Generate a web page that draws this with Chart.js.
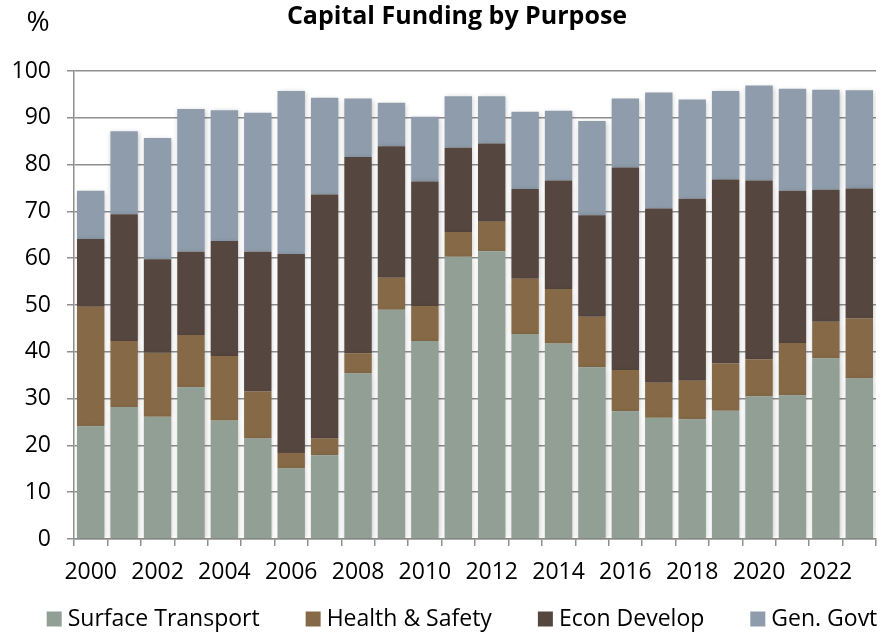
<!DOCTYPE html>
<html lang="en">

<head>
    <meta charset="UTF-8">
    <title>Capital Funding by Purpose</title>
    <script src="https://cdn.jsdelivr.net/npm/chart.js@4/dist/chart.umd.min.js"></script>
    <style>
        body {
            margin: 0;
            background: #ffffff;
        }

        .wrap {
            width: 884px;
            height: 634px;
        }
    </style>
</head>

<body>
    <div class="wrap">
        <canvas id="myChart"></canvas>
    </div>
</body>

</html>

<script>
    // values (percent of capital funding)
    const years = ['2000', '2001', '2002', '2003', '2004', '2005', '2006', '2007', '2008', '2009', '2010', '2011',
        '2012', '2013', '2014', '2015', '2016', '2017', '2018', '2019', '2020', '2021', '2022', '2023'];
    const surfaceTransport = [24.1, 28.2, 26.1, 32.4, 25.3, 21.5, 15.1, 17.9, 35.4, 49.0, 42.3, 60.3,
        61.5, 43.8, 41.8, 36.7, 27.3, 25.9, 25.6, 27.4, 30.5, 30.7, 38.6, 34.3];
    const healthSafety = [25.5, 14.1, 13.7, 11.2, 13.8, 10.0, 3.3, 3.6, 4.3, 6.8, 7.5, 5.3,
        6.3, 11.8, 11.6, 10.8, 8.8, 7.5, 8.2, 10.1, 7.9, 11.2, 7.8, 12.8];
    const econDevelop = [14.5, 27.1, 20.0, 17.8, 24.6, 29.9, 42.5, 52.1, 41.9, 28.1, 26.6, 18.0,
        16.7, 19.2, 23.2, 21.7, 43.3, 37.2, 38.9, 39.3, 38.2, 32.5, 28.2, 27.8];
    const genGovt = [10.3, 17.7, 25.9, 30.5, 27.9, 29.7, 34.8, 20.7, 12.5, 9.3, 13.8, 11.0,
        10.1, 16.5, 14.9, 20.1, 14.7, 24.8, 21.2, 18.9, 20.3, 21.8, 21.4, 21.0];
    const yTicks = [0, 10, 20, 30, 40, 50, 60, 70, 80, 90, 100];

    const FONT = "'Open Sans', 'Noto Sans', sans-serif";
    const gridGray = '#8f8f8f';

    // title and the "%" unit at the top
    const headerPlugin = {
        id: 'header',
        afterDraw(chart) {
            const ctx = chart.ctx;
            ctx.save();
            ctx.fillStyle = '#000';
            ctx.textAlign = 'center';
            ctx.textBaseline = 'alphabetic';
            ctx.font = 'bold 25px ' + FONT;
            ctx.fillText('Capital Funding by Purpose', 457, 24);
            ctx.font = '28px ' + FONT;
            ctx.fillText('%', 38, 31);
            ctx.restore();
        }
    };

    // soft drop shadow under the bars
    const shadowPlugin = {
        id: 'barShadow',
        beforeDatasetsDraw(chart) {
            const ctx = chart.ctx;
            ctx.save();
            ctx.shadowColor = 'rgba(0,0,0,0.22)';
            ctx.shadowBlur = 5;
            ctx.shadowOffsetX = 1;
            ctx.shadowOffsetY = 1;
        },
        afterDatasetsDraw(chart) {
            chart.ctx.restore();
        }
    };

    // legend along the bottom, square swatches
    const legendPlugin = {
        id: 'bottomLegend',
        afterDraw(chart) {
            const ctx = chart.ctx;
            const sets = chart.data.datasets;
            const box = 15, gap = 6, space = 46, midX = 462, midY = 619;
            ctx.save();
            ctx.font = '23px ' + FONT;
            ctx.textBaseline = 'middle';
            ctx.textAlign = 'left';
            let total = 0;
            const widths = sets.map(d => ctx.measureText(d.label).width);
            widths.forEach(w => total += box + gap + w);
            total += space * (sets.length - 1);
            let x = midX - total / 2;
            sets.forEach((d, i) => {
                ctx.fillStyle = d.backgroundColor;
                ctx.fillRect(x, midY - box / 2, box, box);
                ctx.fillStyle = '#000';
                ctx.fillText(d.label, x + box + gap, midY);
                x += box + gap + widths[i] + space;
            });
            ctx.restore();
        }
    };

    let barChart = new Chart(document.getElementById('myChart'), {
        type: 'bar',
        data: {
            labels: years,
            datasets: [{
                label: 'Surface Transport',
                data: surfaceTransport,
                backgroundColor: '#929f95'
            }, {
                label: 'Health & Safety',
                data: healthSafety,
                backgroundColor: '#866a47'
            }, {
                label: 'Econ Develop',
                data: econDevelop,
                backgroundColor: '#55473f'
            }, {
                label: 'Gen. Govt',
                data: genGovt,
                backgroundColor: '#8e9cab'
            }]
        },
        plugins: [headerPlugin, shadowPlugin, legendPlugin],
        options: {
            responsive: true,
            maintainAspectRatio: false,
            animation: false,
            barPercentage: 0.82,
            categoryPercentage: 1,
            layout: {
                padding: { left: 0, right: 8, top: 71, bottom: 55 }
            },
            plugins: {
                legend: { display: false },
                title: { display: false },
                tooltip: { enabled: false }
            },
            scales: {
                x: {
                    stacked: true,
                    afterFit(scale) { scale.height = 40; },
                    grid: {
                        drawOnChartArea: false,
                        drawTicks: true,
                        tickLength: 7,
                        color: gridGray,
                        lineWidth: 1.5
                    },
                    border: { color: gridGray, width: 1.5 },
                    ticks: {
                        autoSkip: false,
                        maxRotation: 0,
                        padding: 13,
                        color: '#000',
                        font: { family: FONT, size: 23 },
                        callback(value, index) {
                            return index % 2 === 0 ? years[index] : '';
                        }
                    }
                },
                y: {
                    stacked: true,
                    min: 0,
                    max: 100,
                    afterFit(scale) { scale.width = 74; },
                    afterBuildTicks(scale) {
                        scale.ticks = yTicks.map(v => ({ value: v }));
                    },
                    grid: {
                        color: gridGray,
                        lineWidth: 1.5,
                        tickLength: 7
                    },
                    border: { color: gridGray, width: 1.5 },
                    ticks: {
                        padding: 16,
                        color: '#000',
                        font: { family: FONT, size: 23 }
                    }
                }
            }
        }
    });
</script>
